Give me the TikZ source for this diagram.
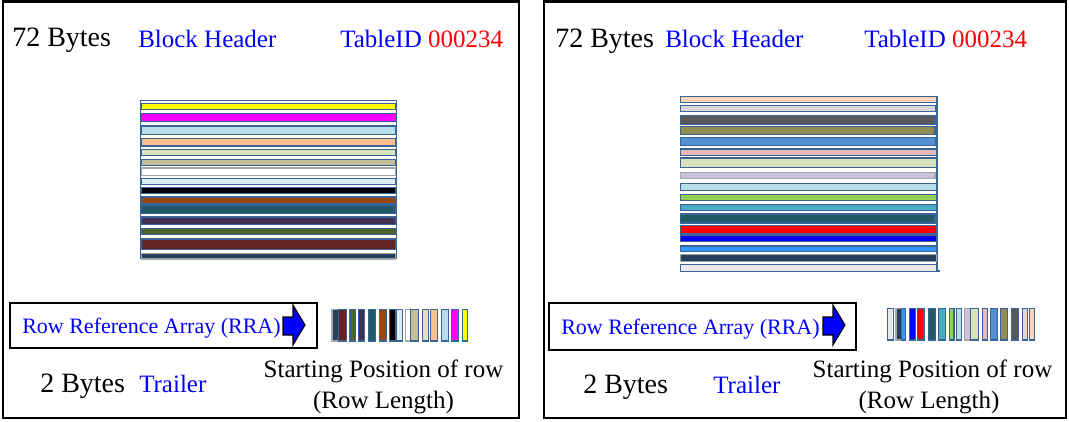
\documentclass[tikz,border=0pt]{standalone}
\usepackage{fontspec}
\setmainfont{Liberation Serif}
\definecolor{sb}{HTML}{3A6496}
\definecolor{gb}{HTML}{A6A6A6}
\definecolor{cYel}{HTML}{FFFF00}
\definecolor{cMag}{HTML}{FF00FF}
\definecolor{cLBl}{HTML}{B7DDE8}
\definecolor{cPea}{HTML}{FAC090}
\definecolor{cLGr}{HTML}{D7E4BC}
\definecolor{cTan}{HTML}{C4BD97}
\definecolor{cVLB}{HTML}{DBEEF3}
\definecolor{cBrn}{HTML}{984807}
\definecolor{cDTe}{HTML}{215967}
\definecolor{cPur}{HTML}{3F3151}
\definecolor{cOli}{HTML}{4F6228}
\definecolor{cMar}{HTML}{632523}
\definecolor{cNav}{HTML}{243F60}
\definecolor{cLPe}{HTML}{FCD5B5}
\definecolor{cLGy}{HTML}{D9D9D9}
\definecolor{cDGy}{HTML}{595959}
\definecolor{cKha}{HTML}{948A54}
\definecolor{cBlu}{HTML}{558ED5}
\definecolor{cPin}{HTML}{E6B9B8}
\definecolor{cLav}{HTML}{CCC1DA}
\definecolor{cGrn}{HTML}{92D050}
\definecolor{cTea}{HTML}{4BACC6}
\definecolor{cAzu}{HTML}{3399FF}
\definecolor{cVLG}{HTML}{E8E8E8}
\begin{document}
\begin{tikzpicture}[x=0.75pt,y=-0.75pt,
  panel/.style={draw=black,line width=1.5pt},
  big/.style={anchor=base west,inner sep=0pt,font=\fontsize{21}{24}\selectfont},
  blu/.style={anchor=base west,inner sep=0pt,text=blue,font=\fontsize{18.75}{22}\selectfont},
  blk/.style={anchor=base,inner sep=0pt,font=\fontsize{18.75}{22}\selectfont},
  rra/.style={draw=black,line width=1.6pt},
  rratext/.style={anchor=base west,inner sep=0pt,text=blue,font=\fontsize{16.5}{20}\selectfont},
  arr/.style={fill=blue,draw=black,line width=0.8pt,line join=miter},
  stripe/.style={line width=1.1pt}]
\useasboundingbox (0,0) rectangle (1069,421);

% panels
\draw[panel] (2.5,1.5) rectangle (518.5,418);
\draw[panel] (543.5,1.5) rectangle (1066,418);

% ---------- left panel ----------
\node[big] (lb72) at (12,46) {72 Bytes};
\node[blu] (lbh) at (138,47) {Block Header};
\node[blu] (ltid) at (340,47) {TableID \textcolor{red}{000234}};

\draw[sb,line width=0.6pt] (140.7,100.7) rectangle (396.7,258);
\foreach \ya/\yb/\c/\b in {
  103.3/109.3/cYel/sb, 113.3/121.7/cMag/sb, 126/134.3/cLBl/sb,
  138.3/146/cPea/sb, 149.3/155.3/cLGr/sb, 159.3/165.3/cTan/sb,
  168/175.3/white/gb, 178.7/184.7/cVLB/sb, 187.3/193.3/black/sb,
  197/203.7/cBrn/sb, 205/213.7/cDTe/sb, 217/224.3/cPur/sb,
  228.3/234.3/cOli/sb, 239/249.7/cMar/sb, 253.3/259/cNav/gb}
  \draw[stripe,draw=\b,fill=\c] (141.5,\ya) rectangle (395.5,\yb);

\draw[rra] (10,303) rectangle (317,348);
\node[rratext] (lrra) at (22,333) {Row Reference Array (RRA)};
\draw[arr] (283,317) -- (293,317) -- (293,305) -- (305,325) -- (293,345) -- (293,335) -- (283,335) -- cycle;

\foreach \xa/\xb/\c/\b in {
  332/338.7/cNav/gb, 338.7/346.7/cMar/sb, 350/355.7/cOli/sb,
  358.3/364.7/cPur/sb, 368.3/375.7/cDTe/sb, 379.3/386.7/cBrn/sb,
  389.3/396/black/sb, 396/402.7/cVLB/sb, 405.3/410.7/white/gb,
  410.7/418.7/cTan/sb, 422.3/428.7/cLGr/sb, 430.3/437.3/cPea/sb,
  441.3/448.7/cLBl/sb, 451.7/458.7/cMag/sb, 462.3/467.7/cYel/sb}
  \draw[stripe,draw=\b,fill=\c] (\xa,309.5) rectangle (\xb,341);

\node[big] (lb2) at (40,392) {2 Bytes};
\node[blu] (ltr) at (139,392) {Trailer};
\node[blk] (lsp) at (383.5,377) {Starting Position of row};
\node[blk] (lrl) at (383.5,408) {(Row Length)};

% ---------- right panel ----------
\node[big] (rb72) at (555,47) {72 Bytes};
\node[blu] (rbh) at (665,47) {Block Header};
\node[blu] (rtid) at (864,47) {TableID \textcolor{red}{000234}};

\draw[sb,line width=0.8pt] (937,96) -- (937,271) -- (940,271);
\foreach \ya/\yb/\xe/\c/\b in {
  96.3/102.3/936.5/cLPe/sb, 105.3/111.3/935.5/cLGy/sb, 115.3/124.7/935/cDGy/sb,
  126.3/134.7/935/cKha/sb, 137.3/145.7/935.5/cBlu/sb, 149/155.3/936.5/cPin/sb,
  158/167.3/936.5/cLGr/sb, 172.3/178.3/935/cLav/gb, 183.3/190.3/936.5/cLBl/sb,
  194.3/200.3/936.5/cGrn/sb, 204.3/210.3/936.5/cTea/sb, 214/223/935/cDTe/sb,
  225.3/233.7/936.5/red/sb, 235/241.3/936.5/blue/sb, 246/251.7/936.5/cAzu/sb,
  254.3/261.3/936.5/cNav/gb, 264.3/271.3/936.5/cVLG/sb}
  \draw[stripe,draw=\b,fill=\c] (680.5,\ya) rectangle (\xe,\yb);

\draw[rra] (549,303) rectangle (856,350);
\node[rratext] (rrra) at (561,334) {Row Reference Array (RRA)};
\draw[arr] (823,317) -- (833,317) -- (833,305) -- (845,325) -- (833,345) -- (833,335) -- (823,335) -- cycle;

\foreach \xa/\xb/\c/\b in {
  887.3/893.7/cVLG/sb, 896/901.3/cNav/gb, 901.3/905.7/cAzu/sb,
  909.3/915.3/blue/sb, 917.3/924/red/sb, 928.3/935.3/cDTe/sb,
  938.7/945.3/cTea/sb, 949.3/954/cGrn/sb, 956.3/961.3/cLBl/sb,
  964.3/970.7/cLav/gb, 970.7/978.3/cLGr/sb, 982.3/987.3/cPin/sb,
  990.7/997.7/cBlu/sb, 1000.3/1007.3/cKha/sb, 1011.3/1018.3/cDGy/sb,
  1022.3/1027.3/cLGy/sb, 1029.3/1034.3/cLPe/sb}
  \draw[stripe,draw=\b,fill=\c] (\xa,308.5) rectangle (\xb,340);

\node[big] (rb2) at (583,393) {2 Bytes};
\node[blu] (rtr) at (713,393) {Trailer};
\node[blk] (rsp) at (932.5,377) {Starting Position of row};
\node[blk] (rrl) at (929,408) {(Row Length)};
\end{tikzpicture}
\end{document}
